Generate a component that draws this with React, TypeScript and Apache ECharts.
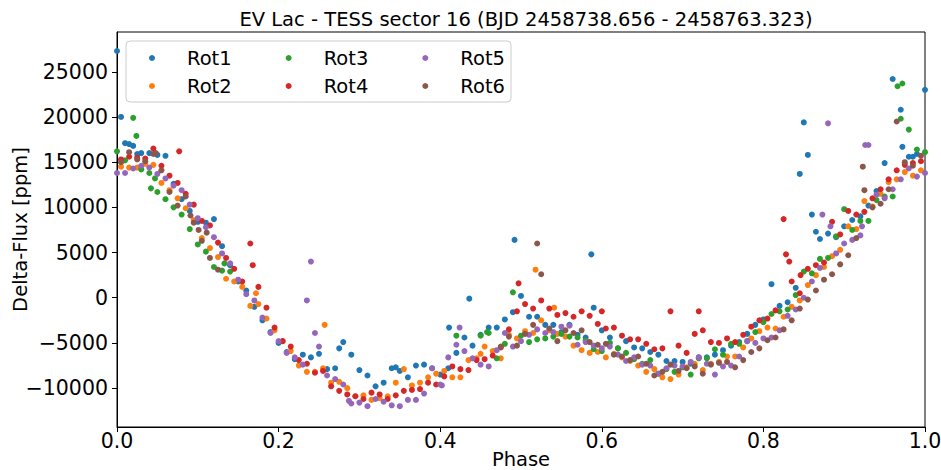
import React, { useEffect, useRef } from "react";
import * as echarts from "echarts";

const TITLE = "EV Lac - TESS sector 16 (BJD 2458738.656 - 2458763.323)";
const SERIES_NAMES = ["Rot1", "Rot2", "Rot3", "Rot4", "Rot5", "Rot6"];
const COLORS = ["#1f77b4", "#ff7f0e", "#2ca02c", "#d62728", "#9467bd", "#8c564b"];
const Y_TICKS = [-10000, -5000, 0, 5000, 10000, 15000, 20000, 25000];

const PHASE_A = [
  0.00, 0.01, 0.02, 0.03, 0.04, 0.05, 0.06, 0.07, 0.08, 0.09,
  0.10, 0.11, 0.12, 0.13, 0.14, 0.15, 0.16, 0.17, 0.18, 0.19,
  0.20, 0.21, 0.22, 0.23, 0.24, 0.25, 0.26, 0.27, 0.28, 0.29,
  0.30, 0.31, 0.32, 0.33, 0.34, 0.35, 0.36, 0.37, 0.38, 0.39,
  0.40, 0.41, 0.42, 0.43, 0.44, 0.45, 0.46, 0.47, 0.48, 0.49,
  0.50, 0.51, 0.52, 0.53, 0.54, 0.55, 0.56, 0.57, 0.58, 0.59,
  0.60, 0.61, 0.62, 0.63, 0.64, 0.65, 0.66, 0.67, 0.68, 0.69,
  0.70, 0.71, 0.72, 0.73, 0.74, 0.75, 0.76, 0.77, 0.78, 0.79,
  0.80, 0.81, 0.82, 0.83, 0.84, 0.85, 0.86, 0.87, 0.88, 0.89,
  0.90, 0.91, 0.92, 0.93, 0.94, 0.95, 0.96, 0.97, 0.98, 0.99,
  1.00,
];

const PHASE_B = [
  0.005, 0.015, 0.025, 0.035, 0.045, 0.055, 0.065, 0.075, 0.085, 0.095,
  0.105, 0.115, 0.125, 0.135, 0.145, 0.155, 0.165, 0.175, 0.185, 0.195,
  0.205, 0.215, 0.225, 0.235, 0.245, 0.255, 0.265, 0.275, 0.285, 0.295,
  0.305, 0.315, 0.325, 0.335, 0.345, 0.355, 0.365, 0.375, 0.385, 0.395,
  0.405, 0.415, 0.425, 0.435, 0.445, 0.455, 0.465, 0.475, 0.485, 0.495,
  0.505, 0.515, 0.525, 0.535, 0.545, 0.555, 0.565, 0.575, 0.585, 0.595,
  0.605, 0.615, 0.625, 0.635, 0.645, 0.655, 0.665, 0.675, 0.685, 0.695,
  0.705, 0.715, 0.725, 0.735, 0.745, 0.755, 0.765, 0.775, 0.785, 0.795,
  0.805, 0.815, 0.825, 0.835, 0.845, 0.855, 0.865, 0.875, 0.885, 0.895,
  0.905, 0.915, 0.925, 0.935, 0.945, 0.955, 0.965, 0.975, 0.985, 0.995,
];

// Rot1 on PHASE_A
const ROT1 = [
  27300, 17100, 16800, 16000, 16000, 15800, 15700, 12600, 10900, 9600,
  8400, 8300, 8700, 5700, 3600, 1800, 800, -1000, -2500, -3800,
  -5000, -6000, -6800, -6300, -6600, -6200, -7900, -7800, -4900, -6300,
  -8000, -8600, -9800, -9400, -7800, -8100, -8800, -7500, -7400, -7800,
  -8500, -7800, -6100, -4400, -5300, -4100, -3300, -3300, -2400, -1600,
  200, -2100, -2100, -3000, -3000, -3800, -3000, -4100, -4400, -1100,
  -3600, -4400, -5600, -4800, -5500, -5600, -6000, -6300, -7000, -7000,
  -7100, -7300, -6600, -6600, -6300, -5800, -5300, -4900, -4000, -3000,
  -2400, 1500, -900, -500, 1100, 19400, 9200, 6500, 7100, 6700,
  7900, 8600, 9000, 10200, 11800, 14900, 24200, 20800, 15600, 15900,
  23000,
];
const ROT1_EXTRA = [
  [0.005, 20000], [0.015, 17000], [0.025, 15900], [0.275, -5600], [0.345, -7700],
  [0.411, -3300], [0.436, -100], [0.492, 6400], [0.587, 4800], [0.845, 13700],
  [0.855, 15800], [0.865, 7300], [0.972, 16700], [0.985, 15600],
];

// Rot2 on PHASE_B
const ROT2 = [
  14500, 14400, 14400, 14800, 14700, 12700, 11900, 11000, 9900, 8600,
  6600, 5500, 4500, 2100, 1800, 1200, -900, -700, -2300, -3600,
  -4800, -5900, -7500, -8200, -8200, -7800, -9400, -9300, -10000, -10900,
  -10800, -11300, -11100, -10900, -9400, -7900, -9700, -9400, -8800, -8400,
  -8100, -8800, -8800, -6900, -6700, -5400, -5900, -6700, -4100, -4500,
  -3700, -3900, -2500, -3600, -4000, -4300, -5300, -5800, -6100, -6000,
  -6600, -6200, -6600, -7000, -7500, -8200, -7900, -8800, -9000, -8500,
  -7700, -7300, -8000, -7300, -7100, -6500, -6500, -5500, -4500, -3700,
  -3300, -3400, -2100, -1000, -300, 1400, 2500, 3400, 4600, 5300,
  7900, 7600, 10700, 10100, 11500, 12800, 13100, 13900, 13500, 14100,
];
const ROT2_EXTRA = [
  [0.172, 500], [0.257, -3000], [0.45, -6200], [0.518, 3100], [0.541, -1100],
];

// Rot3 on PHASE_A
const ROT3 = [
  16200, 15200, 19900, 14200, 13800, 11700, 10900, 10000, 9200, 7600,
  5900, 5100, 3400, 3000, 2900, null, null, null, null, null,
  null, null, null, null, null, null, null, null, null, null,
  null, null, null, null, null, null, null, null, null, null,
  null, null, -4200, null, null, -4200, -3900, -6700, -5100, 600,
  -4200, -4900, -4600, -4500, -4300, -4000, -4300, -4400, -4700, -5700,
  -5900, -5000, -5600, -6100, -6800, -7300, -6900, -8400, -7900, -8200,
  -7700, -8500, -6700, -6700, -5700, -6300, -5100, -5100, -4800, -3800,
  -2700, -1800, -1500, -1300, 300, 2900, 2700, 4300, 4400, 6800,
  9800, 7500, 8500, 8500, 10800, 11200, 11200, 19800, 18600, 16400,
  16100,
];
const ROT3_EXTRA = [
  [0.024, 17900], [0.042, 12100], [0.047, 13200], [0.133, 3800], [0.458, -3800],
  [0.966, 23400], [0.972, 23700],
];

// Rot4 on PHASE_B
const ROT4 = [
  15300, 15600, 15500, 15400, 16500, 14600, 13500, 12700, 11500, 10300,
  8500, 8000, 6100, 4400, 3200, 1800, 6000, 1200, -1100, -3300,
  -4800, -5400, -6900, -7300, -8300, -8100, -9800, -10300, -10700, -10900,
  -11200, -10500, -10700, -11200, -10800, -10300, -10200, -10100, -9400, -9600,
  -8700, -7600, -7900, -8000, -6900, -6800, -6400, -5500, -3500, -1500,
  -700, -1200, -300, -1200, -1900, -1700, -2100, -1500, -2000, -2900,
  -3400, -3300, -4200, -4600, -4600, -5100, -5700, -5600, -1500, -5300,
  -6100, -4000, -3600, -4900, -5000, -4500, -4900, -4100, -3200, -2500,
  -2300, -1400, 8700, 1800, 500, 3200, 3600, 3900, 8400, 7000,
  9600, 9200, 9500, 11000, 12000, 13100, 14100, 14700, 14900, 15100,
];
const ROT4_EXTRA = [
  [0.077, 16200], [0.168, 3600], [0.497, 1600], [0.6, -1500], [0.72, -1500],
  [0.828, 4800], [0.832, 4000], [0.846, 2500],
];

// Rot5 on PHASE_A
const ROT5 = [
  13800, 13800, 14300, 14600, 14400, 13700, 13200, 12400, 11900, 10300,
  8800, 7800, 6700, 4900, 3800, 2000, 400, -300, -2200, -3900,
  -4800, -6100, -6600, -7400, 4000, -5400, -8600, -9000, -9600, -11700,
  -11600, -12000, -11200, -11500, -11900, -12000, -11300, -11300, -10600, -7800,
  -9600, -6600, -5200, -5900, -6700, -7400, -7600, -5800, -3900, -5400,
  -4800, -4100, -3500, -3900, -3800, -3200, -3100, -5200, -4900, -5300,
  -5600, -5400, -6300, -7000, -6600, -7400, -7500, -8400, -7800, -7500,
  -7600, -7100, -6600, -7300, -8500, -7600, -7500, -6500, -4800, -5000,
  -4500, -4400, -3600, -2000, -1300, 0, 1800, 3300, 19300, 4900,
  6000, 6400, 6900, 16900, 11400, 11000, 12000, 13100, 14300, 13400,
  13800,
];
const ROT5_EXTRA = [
  [0.235, -300], [0.245, -3900], [0.287, -11400], [0.402, -9700], [0.424, -3300],
  [0.873, 9200], [0.883, 7900], [0.922, 7900], [0.926, 16900],
];

// Rot6 on PHASE_B
const ROT6 = [
  15000, 16100, 15300, 15100, 15900, 14100, 11700, 10200, 11200, 8300,
  6300, 4400, 3100, null, null, null, null, null, null, null,
  null, null, null, null, null, null, null, null, null, null,
  null, null, null, null, null, null, null, null, null, null,
  null, null, null, null, null, null, null, -5400, -4300, -5300,
  -4000, -3000, 2600, -3400, -4800, -3600, -3900, -3600, -4900, -5200,
  -5100, -6300, -6500, -6900, -6500, -7300, -8600, -8200, -7400, -8100,
  -7800, -7600, -8400, -7400, -7200, -7100, -7700, -6900, -6000, -5600,
  -4700, -4400, -3500, -2500, -1200, -200, 800, 2000, 2600, 3700,
  4700, 6600, 11900, 10000, 10400, 12000, 19500, 15000, 14600, 15700,
];
const ROT6_EXTRA = [
  [0.048, 16000], [0.091, 9100], [0.101, 7500], [0.111, 7200], [0.52, 6000],
  [0.923, 14500],
];

const FONT = "DejaVu Sans";

function build(phases: number[], values: (number | null)[], extra: number[][]) {
  const pts: number[][] = [];
  phases.forEach((p, i) => {
    const v = values[i];
    if (v !== null && v !== undefined) pts.push([p, v]);
  });
  extra.forEach((e) => pts.push([e[0], e[1]]));
  return pts;
}

export default function App() {
  const ref = useRef<HTMLDivElement>(null);
  useEffect(() => {
    if (!ref.current) return;
    const chart = echarts.init(ref.current, null, { renderer: "svg" });
    const datasets = [
      build(PHASE_A, ROT1, ROT1_EXTRA),
      build(PHASE_B, ROT2, ROT2_EXTRA),
      build(PHASE_A, ROT3, ROT3_EXTRA),
      build(PHASE_B, ROT4, ROT4_EXTRA),
      build(PHASE_A, ROT5, ROT5_EXTRA),
      build(PHASE_B, ROT6, ROT6_EXTRA),
    ];
    const fmtNum = (v: number) => (v < 0 ? "\u2212" + Math.abs(v) : String(v));
    const legendCommon = {
      orient: "horizontal" as const,
      left: 149,
      padding: 0,
      itemWidth: 6,
      itemHeight: 6,
      itemGap: 54,
      icon: "circle",
      selectedMode: false,
      textStyle: {
        fontFamily: FONT,
        fontSize: 19.5,
        color: "#000",
        lineHeight: 22,
        padding: [0, 0, 0, 27],
      },
    };
    chart.setOption({
      animation: false,
      color: COLORS,
      title: {
        text: TITLE,
        left: 521,
        top: 4,
        textAlign: "center",
        textStyle: { fontFamily: FONT, fontSize: 19.5, fontWeight: "normal", color: "#000" },
      },
      grid: {
        left: 117,
        right: 16,
        top: 32,
        bottom: 43,
        outerBoundsMode: "none",
        containLabel: false,
        show: true,
        borderColor: "#000",
        borderWidth: 1,
        backgroundColor: "transparent",
      },
      legend: [
        { ...legendCommon, top: 47, data: [SERIES_NAMES[0], SERIES_NAMES[2], SERIES_NAMES[4]] },
        { ...legendCommon, top: 75, data: [SERIES_NAMES[1], SERIES_NAMES[3], SERIES_NAMES[5]] },
      ],
      graphic: [
        {
          type: "rect",
          z: 3,
          shape: { x: 126, y: 41, width: 385, height: 61, r: 4 },
          style: { fill: "rgba(255,255,255,0.8)", stroke: "#cccccc", lineWidth: 1 },
        },
      ],
      xAxis: {
        type: "value",
        min: 0,
        max: 1,
        interval: 0.2,
        name: "Phase",
        nameLocation: "middle",
        nameGap: 22,
        nameMoveOverlap: false,
        nameTextStyle: { fontFamily: FONT, fontSize: 19.5, color: "#000" },
        axisLine: { show: true, onZero: false, lineStyle: { color: "#000", width: 1 } },
        axisTick: { show: true, inside: false, length: 5, lineStyle: { color: "#000" } },
        axisLabel: {
          fontFamily: FONT,
          fontSize: 20.5,
          color: "#000",
          margin: 3,
          hideOverlap: false,
          formatter: (v: number) => v.toFixed(1),
        },
        splitLine: { show: false },
      },
      yAxis: {
        type: "value",
        min: -14300,
        max: 29400,
        name: "Delta-Flux [ppm]",
        nameLocation: "middle",
        nameGap: 87,
        nameMoveOverlap: false,
        nameRotate: 90,
        nameTextStyle: { fontFamily: FONT, fontSize: 19.5, color: "#000" },
        axisLine: { show: true, onZero: false, lineStyle: { color: "#000", width: 1 } },
        axisTick: {
          show: true,
          inside: false,
          length: 5,
          customValues: Y_TICKS,
          lineStyle: { color: "#000" },
        },
        axisLabel: {
          fontFamily: FONT,
          fontSize: 20.5,
          color: "#000",
          margin: 9,
          customValues: Y_TICKS,
          formatter: (v: number) => fmtNum(v),
        },
        splitLine: { show: false },
      },
      series: SERIES_NAMES.map((name, i) => ({
        name,
        type: "scatter",
        symbol: "circle",
        symbolSize: 6,
        data: datasets[i],
        itemStyle: { color: COLORS[i], opacity: 1 },
        emphasis: { disabled: true },
      })),
    });
    return () => chart.dispose();
  }, []);
  return (
    <div
      ref={ref}
      style={{ position: "fixed", left: 0, top: 0, width: 941, height: 470, background: "#fff" }}
    />
  );
}
